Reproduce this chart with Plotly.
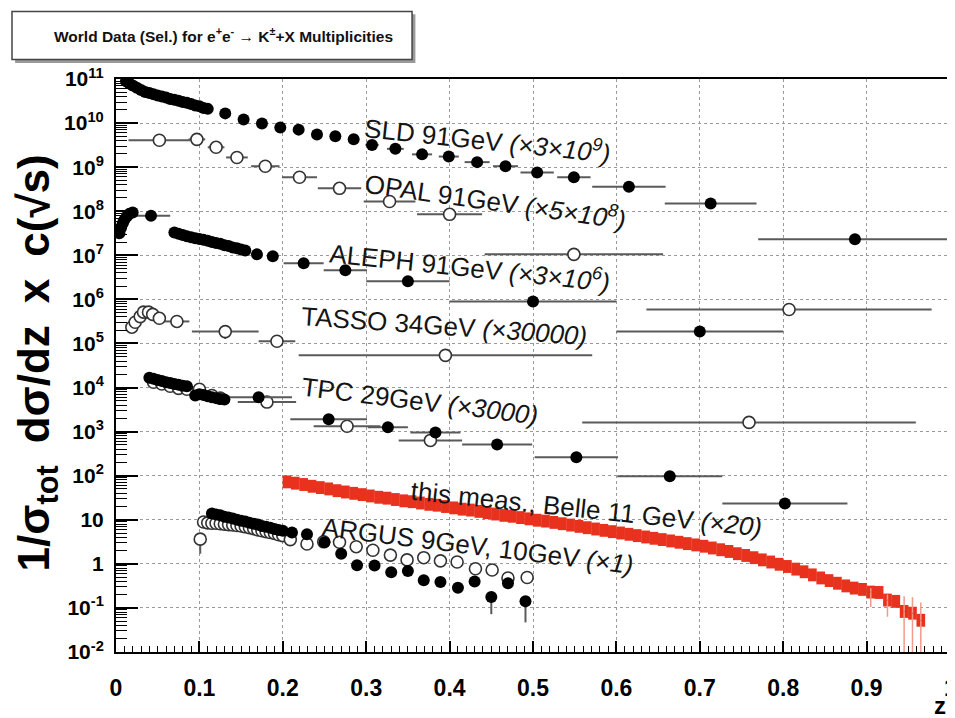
import plotly.graph_objects as go

# ---------------- data ----------------
# SLD 91 GeV (x3e9), filled
sld_z = [0.012, 0.016, 0.020, 0.025, 0.030, 0.035, 0.040, 0.045, 0.050, 0.055, 0.060,
         0.065, 0.070, 0.075, 0.080, 0.085, 0.090, 0.095, 0.100, 0.105, 0.110,
         0.131, 0.153, 0.175, 0.197, 0.219, 0.241, 0.263, 0.285, 0.307, 0.335,
         0.367, 0.399, 0.433, 0.467, 0.505, 0.549, 0.615, 0.713, 0.886]
sld_y = [8.9e10, 7.9e10, 7.1e10, 6.3e10, 5.6e10, 5.1e10, 4.8e10, 4.5e10, 4.2e10, 4.0e10, 3.8e10,
         3.5e10, 3.4e10, 3.2e10, 3.0e10, 2.9e10, 2.7e10, 2.5e10, 2.4e10, 2.2e10, 2.1e10,
         1.66e10, 1.2e10, 9.8e9, 7.9e9, 7.1e9, 5.5e9, 5.0e9, 4.3e9, 3.2e9, 2.6e9,
         1.95e9, 1.74e9, 1.3e9, 1.05e9, 7.6e8, 5.9e8, 3.6e8, 1.5e8, 2.3e7]
sld_xerr = [0] * 21 + [0, 0, 0, 0, 0, 0, 0, 0, 0.008, 0.01,
                       0.012, 0.012, 0.015, 0.015, 0.02, 0.02, 0.044, 0.055, 0.116]

# OPAL 91 GeV (x5e8), open
opal_z = [0.052, 0.097, 0.120, 0.145, 0.179, 0.220, 0.268, 0.328, 0.400, 0.549, 0.807]
opal_y = [4.07e9, 4.27e9, 2.82e9, 1.66e9, 1.05e9, 5.89e8, 3.31e8, 1.66e8, 8.51e7, 1.05e7, 5.89e5]
opal_xerr = [0.037, 0.01, 0.01, 0.013, 0.017, 0.021, 0.026, 0.031, 0.039, 0.107, 0.171]

# ALEPH 91 GeV (x3e6), filled
aleph_z = [0.004, 0.006, 0.008, 0.010, 0.013, 0.016, 0.020, 0.042,
           0.070, 0.075, 0.080, 0.085, 0.090, 0.095, 0.100, 0.105, 0.110, 0.115,
           0.120, 0.125, 0.130, 0.135, 0.140, 0.145, 0.150, 0.155,
           0.169, 0.188, 0.225, 0.275, 0.350, 0.500, 0.700]
aleph_y = [3.16e7, 4.17e7, 5.25e7, 6.31e7, 7.59e7, 8.71e7, 9.33e7, 7.94e7,
           3.31e7, 3.09e7, 2.88e7, 2.69e7, 2.57e7, 2.45e7, 2.34e7, 2.24e7, 2.14e7, 2.0e7,
           1.91e7, 1.82e7, 1.70e7, 1.62e7, 1.51e7, 1.45e7, 1.35e7, 1.29e7,
           1.05e7, 9.55e6, 6.61e6, 4.57e6, 2.57e6, 8.91e5, 1.86e5]
aleph_xerr = [0] * 7 + [0.023] + [0] * 18 + [0, 0, 0.024, 0.026, 0.05, 0.1, 0.1]

# TASSO 34 GeV (x30000), open
tasso_z = [0.019, 0.023, 0.029, 0.033, 0.039, 0.044, 0.052, 0.073, 0.131, 0.193, 0.395, 0.759]
tasso_y = [2.34e5, 3.02e5, 4.07e5, 5.13e5, 5.13e5, 4.57e5, 3.72e5, 3.16e5, 1.86e5, 1.12e5, 5.37e4, 1620]
tasso_xerr = [0, 0, 0, 0, 0, 0, 0, 0.015, 0.04, 0.022, 0.176, 0.2]
tasso_yerr_minus = [0, 0, 0, 0, 0, 0, 0, 0, 6.0e4, 0, 0, 0]

# TPC 29 GeV (x3000), filled and open
tpc_f_z = [0.040, 0.045, 0.050, 0.055, 0.060, 0.065, 0.070, 0.075, 0.080, 0.085,
           0.095, 0.100, 0.105, 0.110, 0.115, 0.120, 0.125, 0.130,
           0.171, 0.255, 0.326, 0.383, 0.457, 0.552, 0.664, 0.802]
tpc_f_y = [16600, 15800, 14800, 14100, 13200, 12600, 12000, 11500, 11000, 10700,
           6610, 7080, 6760, 6310, 6030, 5750, 5500, 5370,
           6030, 1905, 1260, 955, 513, 263, 97.7, 23.4]
tpc_f_xerr = [0] * 18 + [0.04, 0.046, 0.024, 0.03, 0.042, 0.05, 0.063, 0.075]
tpc_o_z = [0.045, 0.055, 0.065, 0.075, 0.085, 0.100, 0.115, 0.125, 0.181, 0.277, 0.377]
tpc_o_y = [13200, 12000, 10700, 9550, 9120, 9120, 6610, 5750, 4680, 1320, 631]
tpc_o_xerr = [0, 0, 0, 0, 0, 0, 0, 0, 0.035, 0.04, 0.038]

# ARGUS 9 GeV (filled) and 10 GeV (open), x1
argus_f_z = [0.115, 0.120, 0.125, 0.130, 0.135, 0.140, 0.145, 0.150, 0.155, 0.160,
             0.165, 0.170, 0.175, 0.180, 0.185, 0.190, 0.195, 0.200,
             0.211, 0.229, 0.250, 0.270, 0.289, 0.310, 0.330, 0.350, 0.369, 0.389,
             0.410, 0.430, 0.450, 0.470, 0.491]
argus_f_y = [13.8, 13.2, 12.6, 11.7, 11.2, 10.7, 10.0, 9.55, 9.12, 8.51,
             8.13, 7.76, 7.24, 6.92, 6.61, 6.17, 5.89, 5.62,
             5.13, 4.68, 3.09, 1.70, 0.933, 0.912, 0.646, 0.692, 0.427, 0.389,
             0.288, 0.398, 0.178, 0.363, 0.141]
argus_f_yerr_minus = [0] * 30 + [0.106, 0, 0.094]
argus_o_z = [0.101, 0.105, 0.110, 0.115, 0.120, 0.125, 0.130, 0.135, 0.140, 0.145, 0.150,
             0.155, 0.160, 0.165, 0.170, 0.175, 0.180, 0.185, 0.190, 0.195, 0.200,
             0.209, 0.229, 0.249, 0.268, 0.288, 0.308, 0.329, 0.349, 0.369, 0.389,
             0.409, 0.431, 0.451, 0.470, 0.493]
argus_o_y = [3.63, 8.91, 8.51, 8.32, 8.32, 8.13, 7.94, 7.76, 7.59, 7.41, 7.24,
             6.92, 6.61, 6.31, 5.89, 5.62, 5.37, 5.13, 4.90, 4.57, 4.37,
             3.55, 2.82, 3.16, 3.09, 2.45, 2.04, 1.58, 1.23, 1.38, 1.17,
             1.10, 0.776, 0.724, 0.479, 0.490]
argus_o_yerr_minus = [1.93] + [0] * 35

# this measurement, Belle 11 GeV (x20): bins of 0.01 from 0.20 to 0.97
belle_z = [0.205, 0.215, 0.225, 0.235, 0.245, 0.255, 0.265, 0.275, 0.285, 0.295,
           0.305, 0.315, 0.325, 0.335, 0.345, 0.355, 0.365, 0.375, 0.385, 0.395,
           0.405, 0.415, 0.425, 0.435, 0.445, 0.455, 0.465, 0.475, 0.485, 0.495,
           0.505, 0.515, 0.525, 0.535, 0.545, 0.555, 0.565, 0.575, 0.585, 0.595,
           0.605, 0.615, 0.625, 0.635, 0.645, 0.655, 0.665, 0.675, 0.685, 0.695,
           0.705, 0.715, 0.725, 0.735, 0.745, 0.755, 0.765, 0.775, 0.785, 0.795,
           0.805, 0.815, 0.825, 0.835, 0.845, 0.855, 0.865, 0.875, 0.885, 0.895,
           0.905, 0.915, 0.925, 0.935, 0.945, 0.955, 0.965]
belle_y = [72.4, 67.6, 63.1, 57.5, 53.7, 50.1, 45.7, 42.7, 39.8, 37.2,
           34.7, 32.4, 30.9, 28.8, 26.9, 25.7, 24.0, 22.4, 21.4, 20.0,
           18.6, 17.4, 16.6, 15.5, 14.5, 13.5, 12.6, 12.0, 11.2, 10.5,
           9.77, 9.33, 8.71, 8.13, 7.59, 7.08, 6.61, 6.17, 5.75, 5.37,
           5.01, 4.68, 4.37, 4.07, 3.80, 3.55, 3.31, 3.09, 2.88, 2.69,
           2.51, 2.29, 2.09, 1.91, 1.70, 1.55, 1.38, 1.23, 1.10, 0.977,
           0.871, 0.759, 0.661, 0.562, 0.479, 0.417, 0.363, 0.316, 0.282, 0.263,
           0.229, 0.224, 0.151, 0.141, 0.0832, 0.0759, 0.0525]
# statistical error lines visible at the high-z end
belle_stat_z = [0.905, 0.925, 0.945, 0.955, 0.965]
belle_stat_y = [0.229, 0.151, 0.0832, 0.0759, 0.0525]
belle_stat_plus = [0.05, 0.05, 0.10, 0.10, 0.08]
belle_stat_minus = [0.124, 0.088, 0.080, 0.073, 0.050]

# axis ticks
y_tickvals = [1e-2, 1e-1, 1, 10, 1e2, 1e3, 1e4, 1e5, 1e6, 1e7, 1e8, 1e9, 1e10, 1e11]
y_ticktext = ["10<sup>-2</sup>", "10<sup>-1</sup>", "1", "10", "10<sup>2</sup>", "10<sup>3</sup>",
              "10<sup>4</sup>", "10<sup>5</sup>", "10<sup>6</sup>", "10<sup>7</sup>",
              "10<sup>8</sup>", "10<sup>9</sup>", "10<sup>10</sup>", "10<sup>11</sup>"]
x_tickvals = [0, 0.1, 0.2, 0.3, 0.4, 0.5, 0.6, 0.7, 0.8, 0.9, 1.0]
x_ticktext = ["0", "0.1", "0.2", "0.3", "0.4", "0.5", "0.6", "0.7", "0.8", "0.9", "1"]

# ---------------- figure ----------------
FONT = "Liberation Sans, Arial, Helvetica, sans-serif"
ERRC = "#5a5a5a"
RED = "#e8321e"

fig = go.Figure()

# Belle boxes (systematic band)
BAND = 1.4
fig.add_trace(go.Bar(
    x=belle_z, y=[v * BAND - v / BAND for v in belle_y], base=[v / BAND for v in belle_y],
    width=0.0104, marker=dict(color=RED, line=dict(width=0)), showlegend=False))
fig.add_trace(go.Scatter(
    x=belle_stat_z, y=belle_stat_y, mode="markers", marker=dict(size=1, color=RED),
    error_y=dict(type="data", symmetric=False, array=belle_stat_plus, arrayminus=belle_stat_minus,
                 color="#f39a8c", thickness=1.5, width=0),
    showlegend=False))


def add_series(z, y, xerr=None, hollow=False, yminus=None):
    marker = dict(size=12, color="white" if hollow else "black",
                  line=dict(color="#333333" if hollow else "black", width=1.6 if hollow else 0))
    kw = {}
    if xerr is not None:
        kw["error_x"] = dict(type="data", array=xerr, color=ERRC, thickness=2, width=0)
    if yminus is not None:
        kw["error_y"] = dict(type="data", symmetric=False, array=[0] * len(y), arrayminus=yminus,
                             color=ERRC, thickness=2, width=0)
    fig.add_trace(go.Scatter(x=z, y=y, mode="markers", marker=marker, showlegend=False, **kw))


add_series(argus_o_z, argus_o_y, hollow=True, yminus=argus_o_yerr_minus)
add_series(argus_f_z, argus_f_y, yminus=argus_f_yerr_minus)
add_series(tpc_o_z, tpc_o_y, tpc_o_xerr, hollow=True)
add_series(tpc_f_z, tpc_f_y, tpc_f_xerr)
add_series(tasso_z, tasso_y, tasso_xerr, hollow=True, yminus=tasso_yerr_minus)
add_series(aleph_z, aleph_y, aleph_xerr)
add_series(opal_z, opal_y, opal_xerr, hollow=True)
add_series(sld_z, sld_y, sld_xerr)

# minor tick positions for log axis
y_minor = [m * 10 ** k for k in range(-2, 11) for m in range(2, 10)]

# the page has an 8px body margin, so the figure is 8px smaller than the window
fig.update_layout(
    width=947, height=710,
    margin=dict(l=108, r=5, t=71, b=66, autoexpand=False),
    paper_bgcolor="white", plot_bgcolor="white",
    barmode="overlay",
    font=dict(family=FONT, color="black"),
    xaxis=dict(range=[0, 1], tickmode="array", tickvals=x_tickvals, ticktext=x_ticktext,
               ticks="inside", ticklen=11, tickwidth=1.5, tickcolor="black",
               minor=dict(ticks="inside", dtick=0.01, tick0=0, ticklen=6, tickwidth=1.2,
                          tickcolor="black", showgrid=False),
               showline=True, linecolor="black", linewidth=2, mirror=True,
               showgrid=True, gridcolor="#9a9a9a", griddash="dot", gridwidth=1,
               zeroline=False, ticklabelstandoff=14, automargin=False,
               tickfont=dict(size=23, family=FONT, weight="bold", color="black")),
    yaxis=dict(type="log", range=[-2, 11], tickmode="array", tickvals=y_tickvals,
               ticktext=y_ticktext, ticks="inside", ticklen=22, tickwidth=1.5, tickcolor="black",
               minor=dict(ticks="inside", tickmode="array", tickvals=y_minor, ticklen=11,
                          tickwidth=1.2, tickcolor="black", showgrid=False),
               showline=True, linecolor="black", linewidth=2, mirror=True,
               showgrid=True, gridcolor="#9a9a9a", griddash="dot", gridwidth=1,
               zeroline=False, automargin=False, ticklabelstandoff=6,
               tickfont=dict(size=21, family=FONT, weight="bold", color="black")),
)

# title box with shadow
fig.add_shape(type="rect", xref="paper", yref="paper", x0=-0.121, x1=0.359, y0=1.028, y1=1.113,
              fillcolor="#9a9a9a", line=dict(width=0))
fig.add_shape(type="rect", xref="paper", yref="paper", x0=-0.1247, x1=0.355, y0=1.034, y1=1.118,
              fillcolor="white", line=dict(color="#444444", width=1.5))
fig.add_annotation(xref="paper", yref="paper", x=0.129, y=1.076, xanchor="center", yanchor="middle",
                   showarrow=False,
                   text="World Data (Sel.) for e<sup>+</sup>e<sup>-</sup> \u2192 K<sup>\u00b1</sup>+X Multiplicities",
                   font=dict(family=FONT, size=15.5, weight="bold", color="#111111"))

# axis titles
fig.add_annotation(xref="paper", yref="paper", x=-0.095, y=0.505, xanchor="center", yanchor="middle",
                   showarrow=False, textangle=-90,
                   text="1/\u03c3<sub>tot</sub>\u2002d\u03c3/dz\u2002x\u2002c(\u221as)",
                   font=dict(family=FONT, size=44, weight="bold", color="black"))
fig.add_annotation(xref="paper", yref="paper", x=0.988, y=-0.093, xanchor="center", yanchor="middle",
                   showarrow=False, text="z",
                   font=dict(family=FONT, size=24, weight="bold", color="black"))
# last x tick label, which sits right at the page edge
fig.add_annotation(xref="paper", yref="paper", x=1.0, y=-0.062, xanchor="center", yanchor="middle",
                   showarrow=False, text="1",
                   font=dict(family=FONT, size=23, weight="bold", color="black"))

# series labels (x in z, y in log10 units)
labels = [
    ("SLD 91GeV <i>(\u00d73\u00d710<sup>9</sup>)</i>", 0.445, 9.63, 6),
    ("OPAL 91GeV <i>(\u00d75\u00d710<sup>8</sup>)</i>", 0.455, 8.24, 8),
    ("ALEPH 91GeV <i>(\u00d73\u00d710<sup>6</sup>)</i>", 0.424, 6.75, 6),
    ("TASSO 34GeV <i>(\u00d730000)</i>", 0.393, 5.39, 4),
    ("TPC 29GeV <i>(\u00d73000)</i>", 0.364, 3.69, 7),
    ("this meas., Belle 11 GeV <i>(\u00d720)</i>", 0.564, 1.24, 6),
    ("ARGUS 9GeV, 10GeV <i>(\u00d71)</i>", 0.434, 0.40, 7),
]
for txt, lx, ly, ang in labels:
    fig.add_annotation(x=lx, y=ly, xref="x", yref="y", text=txt, showarrow=False, textangle=ang,
                       xanchor="center", yanchor="middle",
                       font=dict(family=FONT, size=26, color="#151515"))

fig.write_html("out.html")
